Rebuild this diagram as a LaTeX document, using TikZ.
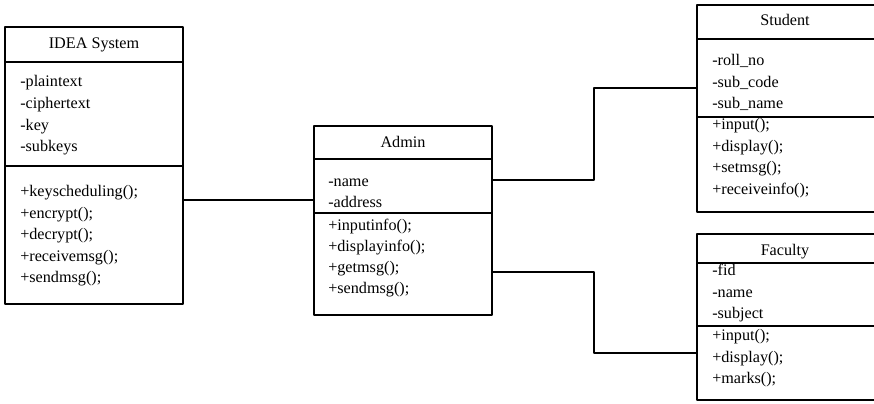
\documentclass[tikz,border=0pt]{standalone}
\usepackage{fontspec}
\setmainfont{Liberation Serif}
\usetikzlibrary{fit}
\tikzset{>=latex}

\begin{document}
\begin{tikzpicture}[x=0.025cm, y=-0.025cm, line join=round,
    classbox/.style={draw, line width=0.9pt, inner sep=0pt, fit={#1}},
    member/.style={anchor=west, inner sep=0pt, text height=8pt, text depth=2.5pt, font=\fontsize{11.5}{14}\selectfont},
    heading/.style={member, anchor=center},
    sep/.style={line width=0.9pt}]
    \useasboundingbox (0,0) rectangle (874,403);

    % IDEA System
    \node[classbox={(5,27) (183,304)}] (idea) {};
    \draw[sep] (idea.west |- 0,62) -- (idea.east |- 0,62);
    \draw[sep] (idea.west |- 0,166) -- (idea.east |- 0,166);
    \node[heading] (idea-name) at (94,45) {IDEA System};
    \foreach \txt [count=\i] in {-plaintext,-ciphertext,-key,-subkeys}
        \node[member] (idea-a\i) at (20,61.5+21.6*\i) {\txt};
    \foreach \txt [count=\i] in {+keyscheduling();,+encrypt();,+decrypt();,+receivemsg();,+sendmsg();}
        \node[member] (idea-m\i) at (20,171.5+21.5*\i) {\txt};

    % Admin
    \node[classbox={(314,126) (492,315)}] (admin) {};
    \draw[sep] (admin.west |- 0,159) -- (admin.east |- 0,159);
    \draw[sep] (admin.west |- 0,213) -- (admin.east |- 0,213);
    \node[heading] (admin-name) at (403,144) {Admin};
    \foreach \txt [count=\i] in {-name,-address}
        \node[member] (admin-a\i) at (328,162+21*\i) {\txt};
    \foreach \txt [count=\i] in {+inputinfo();,+displayinfo();,+getmsg();,+sendmsg();}
        \node[member] (admin-m\i) at (328,206+21*\i) {\txt};

    % Student
    \node[classbox={(697,5) (877,212)}] (student) {};
    \draw[sep] (student.west |- 0,39) -- (student.east |- 0,39);
    \draw[sep] (student.west |- 0,117) -- (student.east |- 0,117);
    \node[heading] (student-name) at (785,22) {Student};
    \foreach \txt [count=\i] in {-roll\_no,-sub\_code,-sub\_name}
        \node[member] (student-a\i) at (712,40.5+21.5*\i) {\txt};
    \foreach \txt [count=\i] in {+input();,+display();,+setmsg();,+receiveinfo();}
        \node[member] (student-m\i) at (712,104.5+21.5*\i) {\txt};

    % Faculty
    \node[classbox={(697,234) (877,400)}] (faculty) {};
    \draw[sep] (faculty.west |- 0,263) -- (faculty.east |- 0,263);
    \draw[sep] (faculty.west |- 0,326) -- (faculty.east |- 0,326);
    \node[heading] (faculty-name) at (785,252) {Faculty};
    \foreach \txt [count=\i] in {-fid,-name,-subject}
        \node[member] (faculty-a\i) at (712,250.5+21.5*\i) {\txt};
    \foreach \txt [count=\i] in {+input();,+display();,+marks();}
        \node[member] (faculty-m\i) at (712,315.5+21.5*\i) {\txt};

    % associations
    \draw[sep] (idea.east |- 0,200) -- (admin.west |- 0,200);
    \draw[sep] (admin.east |- 0,180) -| (594,88) -- (student.west |- 0,88);
    \draw[sep] (admin.east |- 0,272) -| (594,353) -- (faculty.west |- 0,353);
\end{tikzpicture}
\end{document}
